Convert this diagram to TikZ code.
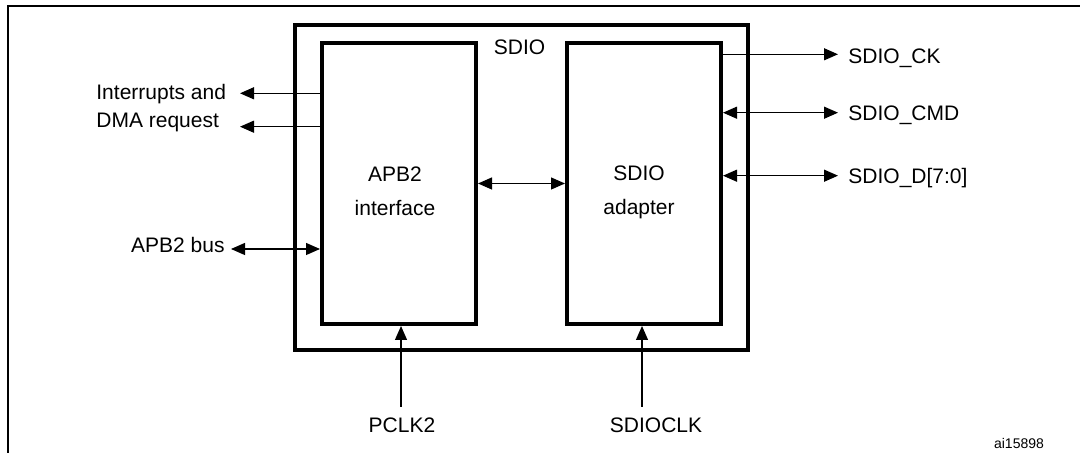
\documentclass[tikz,border=0pt]{standalone}
\usepackage{fontspec}
\setmainfont{Liberation Sans}
\usetikzlibrary{arrows.meta, positioning, calc}

\begin{document}
\begin{tikzpicture}[x=0.5pt, y=-0.5pt,
    every node/.style={font=\fontsize{10.5}{17}\selectfont, inner sep=0pt},
    blk/.style={draw, line width=2pt, minimum width=77pt, minimum height=140.5pt},
    sig/.style={line width=0.6pt},
    tip/.style={-{Triangle[length=7pt, width=6pt]}},
    dbl/.style={{Triangle[length=7pt, width=6pt]}-{Triangle[length=7pt, width=6pt]}}]
  \useasboundingbox (0,0) rectangle (1080,453);
  % Frame
  \draw[line width=1.2pt] (8,453) |- (1080,6);

  % Blocks
  \node[draw, line width=2pt, minimum width=226.75pt, minimum height=162.5pt] (sdio) at (521.25,187.5) {};
  \node[blk] (apb) at (399,183.5) {};
  \node[blk] (adapter) at (644,183.5) {};
  \node[anchor=base] (sdiolbl) at (519.5,55) {SDIO};
  \node[anchor=north, align=center] (apblbl) at (395,166) {APB2\\interface};
  \node[anchor=north, align=center] (adplbl) at (639,165.5) {SDIO\\adapter};

  % Free ends
  \coordinate (irqtip) at (240,93.3);
  \coordinate (dmatip) at (240,126.7);
  \coordinate (bustip) at (231,249);
  \coordinate (cktip) at (838,54.3);
  \coordinate (cmdtip) at (838,112.7);
  \coordinate (dattip) at (838,175.7);
  \coordinate (pclktail) at (401,406.7);
  \coordinate (sdclktail) at (642,406.7);

  % Signal names
  \node[anchor=base west] (irq) at (96,100) {Interrupts and};
  \node[anchor=base west] (dma) at (96,127.7) {DMA request};
  \node[anchor=base east] (bus) at (225,252.7) {APB2 bus};
  \node[anchor=base west] (ck) at (848,64) {SDIO\_CK};
  \node[anchor=base west] (cmd) at (848,120.7) {SDIO\_CMD};
  \node[anchor=base west] (dat) at (848,184) {SDIO\_D[7:0]};
  \node[anchor=base] (pclk) at (402,432.7) {PCLK2};
  \node[anchor=base] (sdclk) at (656,432.7) {SDIOCLK};
  \node[anchor=base, font=\fontsize{7}{8}\selectfont] (ref) at (1019,449) {ai15898};

  % Signals
  \draw[sig, tip] (apb.west |- irqtip) -- (irqtip);
  \draw[sig, tip] (apb.west |- dmatip) -- (dmatip);
  \draw[sig, dbl] (bustip) -- (apb.west |- bustip);
  \draw[sig, dbl] (apb.east) -- (adapter.west);
  \draw[sig, tip] (adapter.east |- cktip) -- (cktip);
  \draw[sig, dbl] (adapter.east |- cmdtip) -- (cmdtip);
  \draw[sig, dbl] (adapter.east |- dattip) -- (dattip);
  \draw[sig, tip] (pclktail) -- (apb.south -| pclktail);
  \draw[sig, tip] (sdclktail) -- (adapter.south -| sdclktail);
\end{tikzpicture}
\end{document}
